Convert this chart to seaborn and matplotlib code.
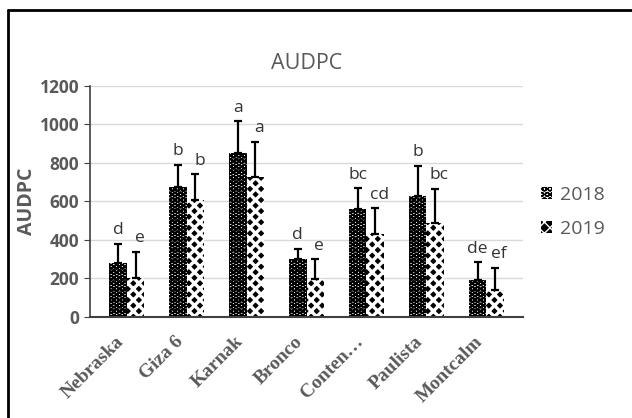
import numpy as np
import pandas as pd
import matplotlib.pyplot as plt
import matplotlib.transforms as mtransforms
from matplotlib.lines import Line2D
import seaborn as sns

cultivars = ['Nebraska', 'Giza 6', 'Karnak', 'Bronco', 'Conten…', 'Paulista', 'Montcalm']
years = ['2018', '2019']
audpc_2018 = [280, 675, 850, 300, 560, 630, 190]
err_2018 = [100, 115, 165, 55, 108, 155, 95]
audpc_2019 = [200, 610, 725, 195, 430, 490, 140]
err_2019 = [140, 130, 185, 105, 135, 175, 115]
letters_2018 = ['d', 'b', 'a', 'd', 'bc', 'b', 'de']
letters_2019 = ['e', 'b', 'a', 'e', 'cd', 'bc', 'ef']

df = pd.DataFrame({
    'cultivar': cultivars * 2,
    'year': ['2018'] * len(cultivars) + ['2019'] * len(cultivars),
    'AUDPC': audpc_2018 + audpc_2019,
})

sns.set_style('white')
plt.rcParams['font.family'] = ['Open Sans', 'DejaVu Sans']

grey = '#595959'
fig = plt.figure(figsize=(6.32, 4.18), dpi=100)
ax = fig.add_axes([0.142, 0.2416, 0.686, 0.553])

sns.barplot(data=df, x='cultivar', y='AUDPC', hue='year', hue_order=years,
            order=cultivars, width=0.58, gap=0, legend=False, ax=ax,
            palette=['black', 'black'])

# 2018: dark rings, 2019: black diamonds split by white lines
styles = [dict(facecolor='white', edgecolor='black', hatch='OOO', lw=1.4),
          dict(facecolor='black', edgecolor='white', hatch='xxx', lw=2.4)]
vals = [audpc_2018, audpc_2019]
errs = [err_2018, err_2019]
letters = [letters_2018, letters_2019]
offsets = [0, 3]
for cont, st, v, e, lab, off in zip(ax.containers, styles, vals, errs, letters, offsets):
    xs = []
    for p in cont.patches:
        p.set_facecolor(st['facecolor'])
        p.set_edgecolor(st['edgecolor'])
        p.set_hatch(st['hatch'])
        p.set_hatch_linewidth(st['lw'])
        p.set_linewidth(0)
        xs.append(p.get_x() + p.get_width() / 2)
    ax.errorbar(xs, v, yerr=[np.zeros(len(e)), e], fmt='none', ecolor='black',
                elinewidth=1.6, capsize=3, capthick=1.6, zorder=5)
    for x, top, er, t in zip(xs, v, e, lab):
        ax.annotate(t, (x, top + er), xytext=(off, 4), textcoords='offset points',
                    ha='center', va='bottom', fontsize=12.5, color='#333333')

ax.set_ylim(0, 1200)
ax.set_yticks(range(0, 1201, 200))
ax.yaxis.grid(True, color='#d9d9d9', linewidth=1)
ax.set_axisbelow(True)
for s in ['top', 'right']:
    ax.spines[s].set_visible(False)
ax.spines['left'].set_color('#404040')
ax.spines['bottom'].set_color('#404040')
ax.spines['left'].set_linewidth(1.2)
ax.spines['bottom'].set_linewidth(1.5)
ax.tick_params(axis='y', left=True, length=4, color='#404040', labelsize=12.5,
               labelcolor=grey)
for t in ax.get_yticklabels():
    t.set_fontweight('bold')
ax.set_xticks(range(len(cultivars)))
ax.set_xticklabels(cultivars, rotation=45, ha='right', rotation_mode='anchor',
                   family='Liberation Serif', fontweight='bold', fontsize=14,
                   color=grey)
ax.tick_params(axis='x', bottom=False, pad=8)
shift = mtransforms.ScaledTranslation(-12 / 100, 0, fig.dpi_scale_trans)
for t in ax.get_xticklabels():
    t.set_transform(t.get_transform() + shift)
ax.set_xlabel('')
ax.set_ylabel('AUDPC', fontsize=14, fontweight='bold', color=grey, labelpad=2)
ax.set_title('AUDPC', fontsize=15.5, color=grey, pad=12)

handles = [ax.containers[0].patches[0], ax.containers[1].patches[0]]
ax.legend(handles, years, loc='center left', bbox_to_anchor=(1.0, 0.455),
          frameon=False, fontsize=14, labelcolor=grey, handlelength=0.6,
          handleheight=0.6, handletextpad=0.4, labelspacing=0.8)

fig.add_artist(Line2D([8 / 632, 1], [1 - 10 / 418] * 2, transform=fig.transFigure,
                      color='black', linewidth=2))
fig.add_artist(Line2D([8 / 632] * 2, [0, 1 - 10 / 418], transform=fig.transFigure,
                      color='black', linewidth=2))

fig.savefig('out.png', dpi=100)
